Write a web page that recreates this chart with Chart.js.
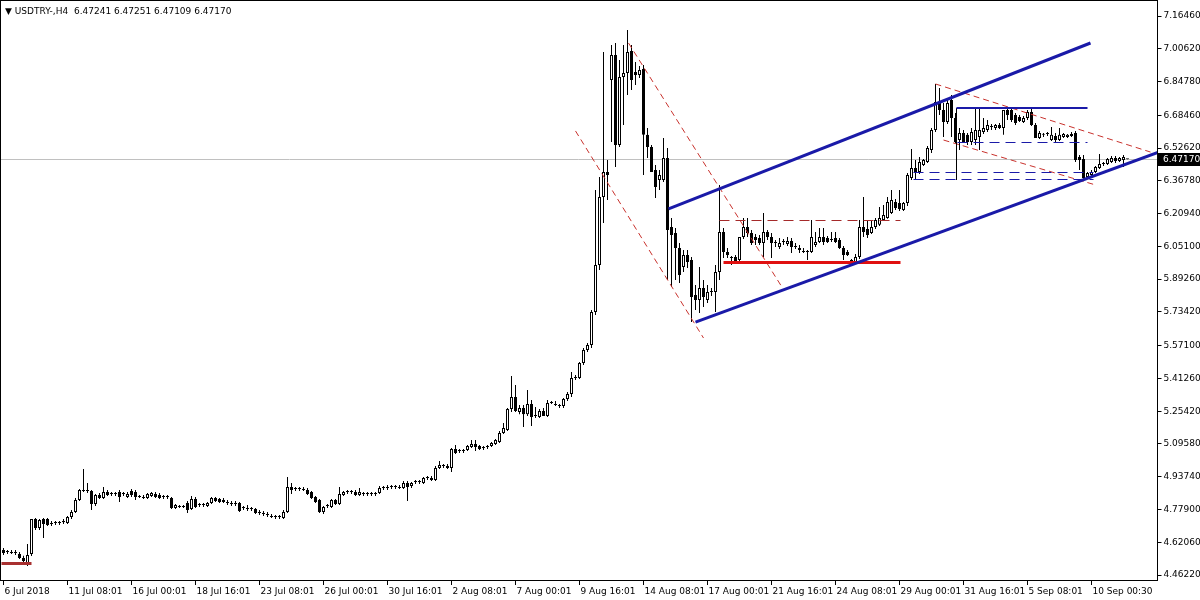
<!DOCTYPE html>
<html>
<head>
<meta charset="utf-8">
<script src="https://cdn.jsdelivr.net/npm/chart.js@4.4.0/dist/chart.umd.min.js"></script>
<style>
  html, body { margin: 0; padding: 0; background: #fff; }
  #wrap { width: 1200px; height: 600px; }
</style>
</head>
<body>
<div id="wrap"><canvas id="myChart" width="1200" height="600"></canvas></div>
<script>
// USDTRY H4, 6 Jul - 10 Sep 2018
const opens = [
  4.583,4.574,4.574,4.569,4.564,4.545,4.520,4.564,4.733,4.690, 4.733,4.733,4.709,4.714,4.714,4.718,4.714,4.743,4.767,4.825,
  4.873,4.873,4.868,4.806,4.849,4.835,4.864,4.854,4.854,4.864, 4.854,4.839,4.868,4.864,4.839,4.839,4.835,4.844,4.854,4.849,
  4.839,4.839,4.835,4.786,4.791,4.791,4.810,4.782,4.830,4.801, 4.801,4.796,4.810,4.835,4.830,4.825,4.815,4.810,4.806,4.810,
  4.786,4.786,4.782,4.782,4.767,4.762,4.757,4.748,4.743,4.743, 4.738,4.767,4.888,4.878,4.878,4.878,4.873,4.864,4.839,4.825,
  4.767,4.796,4.791,4.825,4.806,4.849,4.864,4.864,4.864,4.849, 4.854,4.854,4.854,4.854,4.859,4.883,4.883,4.888,4.888,4.888,
  4.883,4.907,4.893,4.912,4.912,4.907,4.931,4.931,4.922,4.980, 4.989,4.989,4.980,5.071,5.062,5.062,5.067,5.081,5.096,5.086,
  5.076,5.081,5.086,5.096,5.105,5.149,5.163,5.265,5.323,5.250, 5.270,5.240,5.289,5.231,5.226,5.255,5.231,5.294,5.289,5.284,
  5.279,5.313,5.337,5.415,5.415,5.487,5.550,5.574,5.734,5.961, 6.290,6.411,6.855,6.976,6.541,6.870,6.889,6.995,6.894,6.879,
  6.908,6.590,6.531,6.420,6.372,6.372,6.478,6.145,6.116,6.043, 5.951,6.009,5.985,5.816,5.792,5.850,5.792,5.830,5.830,5.927,
  6.120,6.024,5.995,6.000,5.985,6.096,6.145,6.116,6.096,6.092, 6.067,6.120,6.096,6.067,6.048,6.072,6.062,6.077,6.048,6.043,
  6.029,6.024,6.024,6.058,6.072,6.096,6.092,6.082,6.092,6.082, 6.043,6.024,5.980,5.975,6.000,6.145,6.135,6.116,6.145,6.155,
  6.179,6.188,6.212,6.266,6.261,6.227,6.261,6.382,6.430,6.411, 6.444,6.459,6.517,6.614,6.749,6.710,6.652,6.759,6.672,6.565,
  6.599,6.590,6.556,6.565,6.580,6.604,6.614,6.628,6.623,6.638, 6.623,6.710,6.710,6.686,6.676,6.652,6.672,6.701,6.638,6.575,
  6.590,6.594,6.565,6.585,6.565,6.580,6.580,6.594,6.599,6.483, 6.473,6.386,6.396,6.411,6.430,6.449,6.449,6.459,6.478,6.464,
  6.469,6.47241
];
const highs = [
  4.593,4.583,4.583,4.583,4.574,4.555,4.612,4.733,4.738,4.733, 4.738,4.738,4.723,4.723,4.723,4.733,4.748,4.777,4.835,4.878,
  4.975,4.907,4.873,4.854,4.859,4.888,4.873,4.864,4.864,4.873, 4.864,4.864,4.878,4.873,4.849,4.849,4.859,4.864,4.864,4.859,
  4.849,4.849,4.839,4.806,4.801,4.801,4.820,4.844,4.839,4.810, 4.810,4.815,4.839,4.839,4.835,4.835,4.825,4.820,4.820,4.815,
  4.796,4.801,4.791,4.786,4.777,4.772,4.767,4.757,4.752,4.752, 4.777,4.936,4.907,4.888,4.888,4.888,4.883,4.868,4.844,4.830,
  4.796,4.806,4.830,4.830,4.888,4.868,4.873,4.873,4.873,4.883, 4.864,4.864,4.864,4.864,4.893,4.893,4.897,4.897,4.897,4.897,
  4.917,4.917,4.912,4.922,4.922,4.936,4.941,4.941,4.989,5.014, 4.999,4.999,5.076,5.091,5.071,5.071,5.091,5.115,5.115,5.091,
  5.086,5.091,5.105,5.120,5.158,5.197,5.270,5.424,5.381,5.284, 5.284,5.357,5.308,5.274,5.265,5.270,5.308,5.303,5.303,5.289,
  5.318,5.347,5.444,5.429,5.492,5.560,5.584,5.743,6.324,6.386, 6.991,6.469,7.024,7.034,6.952,7.024,7.097,7.024,6.942,6.923,
  6.928,6.623,6.541,6.444,6.420,6.575,6.527,6.188,6.140,6.067, 6.033,6.033,6.000,5.864,5.951,5.888,5.864,5.850,5.961,6.348,
  6.140,6.043,6.004,6.009,6.096,6.188,6.188,6.130,6.111,6.106, 6.212,6.130,6.116,6.082,6.092,6.087,6.096,6.092,6.067,6.058,
  6.043,6.033,6.179,6.120,6.140,6.140,6.101,6.120,6.120,6.092, 6.053,6.033,5.990,6.014,6.179,6.290,6.179,6.179,6.188,6.241,
  6.251,6.290,6.324,6.280,6.324,6.266,6.406,6.522,6.469,6.483, 6.473,6.536,6.623,6.836,6.817,6.744,6.759,6.783,6.696,6.623,
  6.614,6.599,6.623,6.725,6.725,6.672,6.662,6.643,6.643,6.647, 6.710,6.725,6.720,6.696,6.686,6.681,6.710,6.720,6.647,6.609,
  6.599,6.604,6.628,6.599,6.623,6.599,6.594,6.604,6.609,6.493, 6.493,6.411,6.420,6.440,6.498,6.459,6.478,6.488,6.488,6.483,
  6.493,6.47251
];
const lows = [
  4.559,4.564,4.564,4.559,4.540,4.511,4.506,4.554,4.680,4.680, 4.641,4.699,4.699,4.704,4.704,4.709,4.709,4.733,4.762,4.820,
  4.864,4.859,4.777,4.796,4.830,4.830,4.844,4.844,4.844,4.815, 4.844,4.835,4.839,4.825,4.835,4.830,4.830,4.839,4.835,4.830,
  4.830,4.830,4.782,4.782,4.786,4.786,4.762,4.777,4.786,4.791, 4.791,4.791,4.806,4.815,4.810,4.810,4.801,4.796,4.796,4.767,
  4.777,4.772,4.772,4.757,4.752,4.748,4.743,4.738,4.733,4.733, 4.733,4.762,4.854,4.868,4.868,4.868,4.849,4.830,4.810,4.762,
  4.757,4.786,4.786,4.801,4.801,4.844,4.854,4.854,4.844,4.844, 4.844,4.844,4.844,4.844,4.854,4.873,4.873,4.878,4.878,4.878,
  4.878,4.820,4.883,4.902,4.902,4.902,4.922,4.917,4.917,4.975, 4.980,4.975,4.960,5.047,5.052,5.052,5.062,5.076,5.062,5.067,
  5.067,5.071,5.081,5.091,5.100,5.144,5.158,5.250,5.250,5.240, 5.178,5.231,5.183,5.221,5.221,5.231,5.226,5.289,5.279,5.270,
  5.270,5.303,5.323,5.405,5.410,5.478,5.540,5.560,5.719,5.937, 6.164,6.275,6.556,6.435,6.531,6.638,6.783,6.807,6.831,6.865,
  6.396,6.478,6.411,6.285,6.324,6.362,5.888,5.855,5.888,5.874, 5.927,5.946,5.685,5.743,5.729,5.758,5.777,5.811,5.734,5.888,
  5.995,5.995,5.961,5.966,5.975,6.087,6.096,6.058,6.058,6.058, 6.000,6.082,5.995,6.048,6.038,6.058,6.053,6.019,6.038,6.019,
  6.019,5.985,6.019,6.048,6.067,6.058,6.067,6.072,6.067,6.038, 5.985,6.004,5.971,5.971,5.990,6.096,6.092,6.111,6.135,6.150,
  6.174,6.184,6.208,6.227,6.222,6.222,6.246,6.372,6.372,6.401, 6.440,6.454,6.502,6.604,6.686,6.580,6.643,6.580,6.551,6.517,
  6.551,6.541,6.541,6.541,6.517,6.594,6.604,6.614,6.614,6.618, 6.590,6.662,6.652,6.638,6.652,6.647,6.662,6.633,6.575,6.570,
  6.580,6.585,6.560,6.551,6.560,6.575,6.575,6.580,6.459,6.420, 6.372,6.382,6.391,6.406,6.425,6.440,6.444,6.454,6.454,6.459,
  6.435,6.47109
];
const closes = [
  4.569,4.574,4.569,4.574,4.545,4.530,4.559,4.733,4.690,4.728, 4.709,4.704,4.714,4.714,4.718,4.723,4.743,4.767,4.825,4.873,
  4.868,4.868,4.806,4.849,4.835,4.864,4.849,4.854,4.854,4.839, 4.854,4.854,4.849,4.839,4.839,4.835,4.854,4.859,4.839,4.835,
  4.839,4.839,4.786,4.801,4.791,4.791,4.777,4.830,4.791,4.801, 4.806,4.810,4.835,4.820,4.815,4.815,4.810,4.806,4.810,4.772,
  4.786,4.782,4.782,4.762,4.762,4.757,4.752,4.743,4.743,4.743, 4.767,4.888,4.873,4.878,4.878,4.873,4.854,4.835,4.815,4.767,
  4.791,4.796,4.825,4.806,4.854,4.864,4.864,4.864,4.849,4.864, 4.854,4.854,4.854,4.859,4.883,4.883,4.888,4.888,4.888,4.883,
  4.907,4.888,4.907,4.912,4.912,4.931,4.931,4.922,4.980,4.994, 4.989,4.980,5.071,5.052,5.062,5.062,5.086,5.096,5.081,5.071,
  5.076,5.081,5.100,5.115,5.149,5.173,5.265,5.323,5.255,5.270, 5.240,5.289,5.226,5.231,5.255,5.231,5.294,5.294,5.284,5.279,
  5.313,5.337,5.415,5.420,5.487,5.550,5.574,5.734,5.961,6.290, 6.411,6.396,6.976,6.541,6.870,6.889,6.991,6.855,6.879,6.904,
  6.590,6.531,6.411,6.338,6.396,6.478,6.130,6.106,6.043,5.913, 6.009,5.975,5.806,5.792,5.850,5.806,5.830,5.830,5.927,6.120,
  6.024,6.009,5.995,5.975,6.096,6.145,6.116,6.067,6.082,6.067, 6.120,6.096,6.067,6.067,6.067,6.072,6.077,6.048,6.048,6.033,
  6.024,6.024,6.096,6.072,6.096,6.072,6.072,6.082,6.072,6.043, 6.009,6.009,5.980,6.000,6.145,6.120,6.106,6.145,6.179,6.188,
  6.203,6.266,6.275,6.237,6.232,6.261,6.396,6.430,6.411,6.459, 6.469,6.527,6.614,6.749,6.710,6.652,6.744,6.672,6.556,6.599,
  6.556,6.556,6.604,6.614,6.614,6.623,6.638,6.628,6.638,6.623, 6.710,6.686,6.662,6.647,6.657,6.672,6.701,6.638,6.575,6.599,
  6.590,6.594,6.590,6.565,6.590,6.594,6.590,6.585,6.469,6.469, 6.382,6.406,6.411,6.435,6.449,6.449,6.473,6.478,6.464,6.478,
  6.483,6.47170
];

// tick labels
const dateTicks = ['6 Jul 2018', '11 Jul 08:01', '16 Jul 00:01', '18 Jul 16:01', '23 Jul 08:01', '26 Jul 00:01',
  '30 Jul 16:01', '2 Aug 08:01', '7 Aug 00:01', '9 Aug 16:01', '14 Aug 08:01', '17 Aug 00:01', '21 Aug 16:01',
  '24 Aug 08:01', '29 Aug 00:01', '31 Aug 16:01', '5 Sep 08:01', '10 Sep 00:30'];
const priceTicks = [7.16460, 7.00620, 6.84780, 6.68460, 6.52620, 6.36780, 6.20940, 6.05100, 5.89260,
  5.73420, 5.57100, 5.41260, 5.25420, 5.09580, 4.93740, 4.77900, 4.62060, 4.46220];
const lastPrice = 6.47170;

// drawn objects: [bar index, price] pairs
const channelTop = [[166.25, 6.232], [271.75, 7.034]];
const channelBottom = [[173, 5.685], [289.5, 6.512]];
const fallTop = [[156.25, 7.034], [194.75, 5.850]];
const fallBottom = [[143, 6.609], [175, 5.608]];
const wedgeTop = [[233, 6.836], [286.75, 6.507]];
const wedgeBottom = [[235, 6.565], [273, 6.348]];
const rangeTop = [[179, 6.178], [224.25, 6.178]];
const rangeBottom = [[180, 5.971], [224.25, 5.971]];
const startLevel = [[-0.5, 4.516], [7, 4.516]];
const boxTop = [[238.25, 6.720], [271, 6.720]];
const boxSide = [[238.25, 6.720], [238.25, 6.372]];
const boxMid = [[238.5, 6.551], [271, 6.551]];
const supportA = [[227.5, 6.406], [272.5, 6.406]];
const supportB = [[227.5, 6.372], [272.5, 6.372]];

const drawings = [
  { pts: fallTop, color: '#c8322d', width: 1, dash: [6, 4] },
  { pts: fallBottom, color: '#c8322d', width: 1, dash: [6, 4] },
  { pts: wedgeTop, color: '#c8322d', width: 1, dash: [6, 4] },
  { pts: wedgeBottom, color: '#c8322d', width: 1, dash: [6, 4] },
  { pts: rangeTop, color: '#a52a2a', width: 1, dash: [10, 6] },
  { pts: rangeBottom, color: '#e01010', width: 3, dash: [] },
  { pts: startLevel, color: '#a83030', width: 3, dash: [] },
  { pts: boxSide, color: '#000000', width: 1, dash: [] },
  { pts: boxMid, color: '#1a1aa8', width: 1, dash: [10, 6] },
  { pts: supportA, color: '#1a1aa8', width: 1, dash: [10, 6] },
  { pts: supportB, color: '#1a1aa8', width: 1, dash: [10, 6] },
  { pts: boxTop, color: '#1a1aa8', width: 2, dash: [] },
  { pts: channelTop, color: '#1a1aa8', width: 3, dash: [] },
  { pts: channelBottom, color: '#1a1aa8', width: 3, dash: [] }
];

const barSlots = [];
for (let i = 0; i < 289; i++) barSlots.push(i);

const axisFont = { family: "'DejaVu Sans', sans-serif", size: 9 };

// snap thin horizontal / vertical lines onto the pixel grid
function crisp(v, w) {
  return w % 2 === 1 ? Math.round(v - 0.5) + 0.5 : Math.round(v);
}

const chartFrame = {
  id: 'chartFrame',
  beforeDatasetsDraw(chart) {
    const ctx = chart.ctx, area = chart.chartArea;
    const y = crisp(chart.scales.y.getPixelForValue(lastPrice), 1);
    ctx.save();
    ctx.strokeStyle = '#c0c0c0';
    ctx.lineWidth = 1;
    ctx.beginPath();
    ctx.moveTo(0, y);
    ctx.lineTo(area.right, y);
    ctx.stroke();
    ctx.restore();
  },
  afterDatasetsDraw(chart) {
    const ctx = chart.ctx, area = chart.chartArea;
    const xs = chart.scales.x, ys = chart.scales.y;
    ctx.save();
    ctx.beginPath();
    ctx.rect(area.left - 1.5, area.top - 1.5, area.right - area.left + 1.5, area.bottom - area.top + 1.5);
    ctx.clip();
    drawings.forEach(d => {
      let x1 = xs.getPixelForValue(d.pts[0][0]), y1 = ys.getPixelForValue(d.pts[0][1]);
      let x2 = xs.getPixelForValue(d.pts[1][0]), y2 = ys.getPixelForValue(d.pts[1][1]);
      if (d.pts[0][1] === d.pts[1][1]) { y1 = y2 = crisp(y1, d.width); }
      if (d.pts[0][0] === d.pts[1][0]) { x1 = x2 = crisp(x1, d.width); }
      ctx.strokeStyle = d.color;
      ctx.lineWidth = d.width;
      ctx.setLineDash(d.dash);
      ctx.beginPath();
      ctx.moveTo(x1, y1);
      ctx.lineTo(x2, y2);
      ctx.stroke();
    });
    ctx.restore();
  },
  afterDraw(chart) {
    const ctx = chart.ctx, area = chart.chartArea;
    ctx.save();
    // frame
    ctx.strokeStyle = '#000';
    ctx.lineWidth = 1;
    ctx.strokeRect(0.5, 0.5, Math.round(area.right) - 1, Math.round(area.bottom));
    // title
    ctx.fillStyle = '#000';
    ctx.font = "9px 'DejaVu Sans', sans-serif";
    ctx.textBaseline = 'middle';
    ctx.fillText('\u25BC USDTRY-,H4  6.47241 6.47251 6.47109 6.47170', 5, 12);
    // last price tag
    const y = Math.round(chart.scales.y.getPixelForValue(lastPrice));
    ctx.fillStyle = '#000';
    ctx.fillRect(Math.round(area.right), y - 6, 43, 13);
    ctx.fillStyle = '#fff';
    ctx.fillText(lastPrice.toFixed(5), Math.round(area.right) + 5, y + 0.5);
    ctx.restore();
  }
};

var ctx = document.getElementById('myChart').getContext('2d');

var myChart = new Chart(ctx, {
  type: 'bar',
  data: {
    labels: barSlots,
    datasets: [{
      label: 'body',
      data: opens.map((o, i) => [Math.min(o, closes[i]), Math.max(o, closes[i])]),
      backgroundColor: opens.map((o, i) => closes[i] >= o ? '#ffffff' : '#000000'),
      borderColor: '#000000',
      borderWidth: 1,
      borderSkipped: false,
      barThickness: 3,
      minBarLength: 1,
      inflateAmount: 0,
      grouped: false,
      order: 0
    }, {
      label: 'wick',
      data: lows.map((l, i) => [l, highs[i]]),
      backgroundColor: '#000000',
      borderWidth: 0,
      barThickness: 1,
      inflateAmount: 0,
      grouped: false,
      order: 1
    }]
  },
  options: {
    responsive: false,
    animation: false,
    devicePixelRatio: 1,
    events: [],
    layout: { padding: { left: 1.5, top: 1.5, right: 0, bottom: 0 } },
    plugins: { legend: { display: false }, tooltip: { enabled: false } },
    scales: {
      x: {
        type: 'category',
        offset: true,
        border: { display: false },
        grid: { display: true, offset: false, drawOnChartArea: false, drawTicks: true, tickLength: 5, color: '#000' },
        ticks: {
          autoSkip: false, maxRotation: 0, minRotation: 0, align: 'start', labelOffset: 1, padding: 1,
          color: '#000', font: axisFont,
          callback: function (value) { return dateTicks[value / 16]; }
        },
        afterBuildTicks: function (scale) {
          scale.ticks = scale.ticks.filter(t => t.value % 16 === 0 && t.value / 16 < dateTicks.length);
        },
        afterFit: function (scale) {
          scale.height = 20;
          scale.paddingLeft = 0;
          scale.paddingRight = 0;
        }
      },
      y: {
        type: 'linear',
        position: 'right',
        min: 4.4383,
        max: 7.2347,
        border: { display: false },
        grid: { display: true, drawOnChartArea: false, drawTicks: true, tickLength: 4, color: '#000' },
        ticks: {
          padding: 2, color: '#000', font: axisFont,
          callback: function (value) { return Number(value).toFixed(5); }
        },
        afterBuildTicks: function (scale) {
          scale.ticks = priceTicks.map(v => ({ value: v }));
        },
        afterFit: function (scale) {
          scale.width = 42.5;
          scale.paddingTop = 0;
          scale.paddingBottom = 0;
        }
      }
    }
  },
  plugins: [chartFrame]
});
</script>
</body>
</html>
